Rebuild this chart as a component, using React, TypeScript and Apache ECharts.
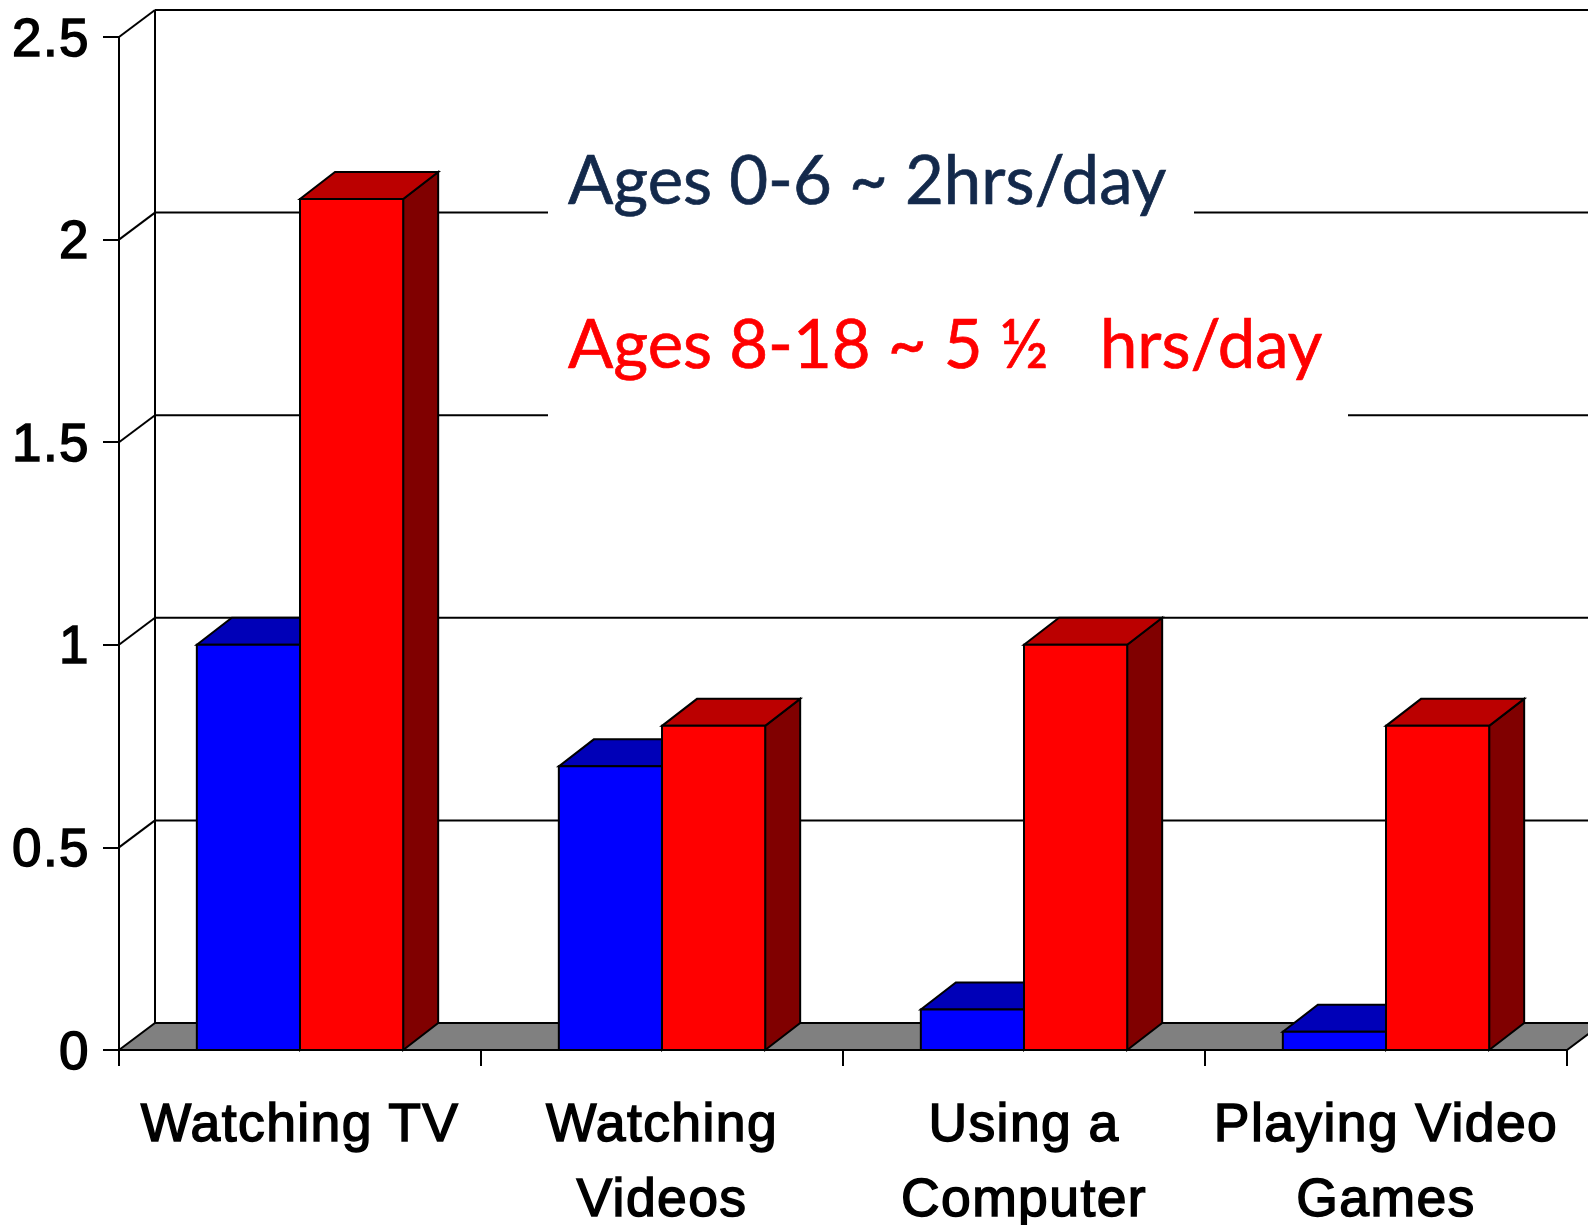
import React, { useEffect, useRef } from "react";
import * as echarts from "echarts";

const categories = ["Watching TV", "Watching\nVideos", "Using a\nComputer", "Playing Video\nGames"];
const ages0to6 = [1.0, 0.7, 0.1, 0.045];
const ages8to18 = [2.1, 0.8, 1.0, 0.8];
const wallValues = [0.5, 1, 1.5, 2, 2.5];
const note1 = "Ages 0-6 ~ 2hrs/day";
const note2 = "Ages 8-18 ~ 5 \u00BD   hrs/day";

const DX = 35;
const DY = -27;
const WALL_DX = 36;
const BAR_RATIO = 0.285;
const LINE = { stroke: "#000", lineWidth: 2, fill: "none" };

function poly(points: number[][], fill: string) {
  return { type: "polygon", shape: { points }, style: { fill, stroke: "#000", lineWidth: 2, lineJoin: "miter" } };
}

function barRenderer(side: "left" | "right", front: string, top: string, shade: string) {
  return (_p: any, api: any) => {
    const cat = api.value(0);
    const val = api.value(1);
    const base = api.coord([cat, 0]);
    const head = api.coord([cat, val]);
    const w = api.size([1, 0])[0] * BAR_RATIO;
    const x0 = side === "left" ? base[0] - w : base[0];
    const x1 = x0 + w;
    const y0 = base[1];
    const y1 = head[1];
    return {
      type: "group",
      children: [
        poly([[x1, y0], [x1 + DX, y0 + DY], [x1 + DX, y1 + DY], [x1, y1]], shade),
        poly([[x0, y1], [x0 + DX, y1 + DY], [x1 + DX, y1 + DY], [x1, y1]], top),
        poly([[x0, y0], [x1, y0], [x1, y1], [x0, y1]], front),
      ],
    };
  };
}

function wallRenderer(_p: any, api: any) {
  const val = api.value(0);
  const half = api.size([1, 0])[0] / 2;
  const a = api.coord([0, val]);
  const xl = a[0] - half;
  const xr = api.coord([categories.length - 1, val])[0] + half;
  const y = a[1];
  return {
    type: "group",
    children: [
      { type: "line", shape: { x1: xl, y1: y, x2: xl + WALL_DX, y2: y + DY }, style: LINE },
      { type: "line", shape: { x1: xl + WALL_DX, y1: y + DY, x2: xr + WALL_DX, y2: y + DY }, style: LINE },
    ],
  };
}

function floorRenderer(_p: any, api: any) {
  const half = api.size([1, 0])[0] / 2;
  const a = api.coord([0, 0]);
  const top = api.coord([0, wallValues[wallValues.length - 1]]);
  const xl = a[0] - half;
  const xr = api.coord([categories.length - 1, 0])[0] + half;
  const y = a[1];
  return {
    type: "group",
    children: [
      { type: "line", shape: { x1: xl + WALL_DX, y1: y + DY, x2: xl + WALL_DX, y2: top[1] + DY }, style: LINE },
      poly([[xl, y], [xl + WALL_DX, y + DY], [xr + WALL_DX, y + DY], [xr, y]], "#808080"),
    ],
  };
}

export default function App() {
  const ref = useRef<HTMLDivElement>(null);
  useEffect(() => {
    document.body.style.margin = "0";
    const chart = echarts.init(ref.current!, undefined, { renderer: "svg" });
    const labelFont = {
      fontFamily: "Liberation Sans",
      color: "#000",
      textBorderColor: "#000",
      textBorderWidth: 1.5,
    };
    chart.setOption({
      animation: false,
      backgroundColor: "#fff",
      grid: { left: 119, right: 21, top: 37, bottom: 175, containLabel: false, outerBoundsMode: "none" },
      xAxis: {
        type: "category",
        data: categories,
        boundaryGap: true,
        axisLine: { show: true, lineStyle: { color: "#000", width: 2 } },
        axisTick: { show: true, length: 16, alignWithLabel: false, lineStyle: { color: "#000", width: 2 } },
        axisLabel: { ...labelFont, fontSize: 53.5, interval: 0, margin: 35, lineHeight: 75 },
      },
      yAxis: {
        type: "value",
        min: 0,
        max: 2.5,
        interval: 0.5,
        splitLine: { show: false },
        axisLine: { show: true, lineStyle: { color: "#000", width: 2 } },
        axisTick: { show: true, length: 16, lineStyle: { color: "#000", width: 2 } },
        axisLabel: { ...labelFont, fontSize: 53, margin: 29 },
      },
      series: [
        { type: "custom", name: "wall", data: wallValues.map((v) => [v]), encode: { y: 0 }, renderItem: wallRenderer, silent: true, z: 1 },
        { type: "custom", name: "floor", data: [[0]], encode: { y: 0 }, renderItem: floorRenderer, silent: true, z: 2 },
        { type: "custom", name: "Ages 0-6", data: ages0to6.map((v, i) => [i, v]), encode: { x: 0, y: 1 }, renderItem: barRenderer("left", "#0000FF", "#0000B8", "#000080"), z: 3 },
        { type: "custom", name: "Ages 8-18", data: ages8to18.map((v, i) => [i, v]), encode: { x: 0, y: 1 }, renderItem: barRenderer("right", "#FF0000", "#BB0000", "#800000"), z: 4 },
      ],
      graphic: [
        { type: "rect", z: 50, shape: { x: 548, y: 140, width: 646, height: 90 }, style: { fill: "#fff" } },
        { type: "rect", z: 50, shape: { x: 548, y: 300, width: 800, height: 125 }, style: { fill: "#fff" } },
        { type: "text", z: 51, x: 568, y: 178, style: { text: note1, fill: "#13294B", stroke: "#13294B", lineWidth: 0.7, font: "67px Lato", textAlign: "left", textVerticalAlign: "middle" } },
        { type: "text", z: 51, x: 568, y: 342, style: { text: note2, fill: "#FF0000", stroke: "#FF0000", lineWidth: 0.7, font: "67px Lato", textAlign: "left", textVerticalAlign: "middle" } },
      ],
    });
    return () => chart.dispose();
  }, []);
  return (
    <>
      <style>{`#chart-host text[style*="Liberation"] { letter-spacing: 1.4px; }`}</style>
      <div id="chart-host" ref={ref} style={{ width: 1588, height: 1225, position: "fixed", left: 0, top: 0 }} />
    </>
  );
}
